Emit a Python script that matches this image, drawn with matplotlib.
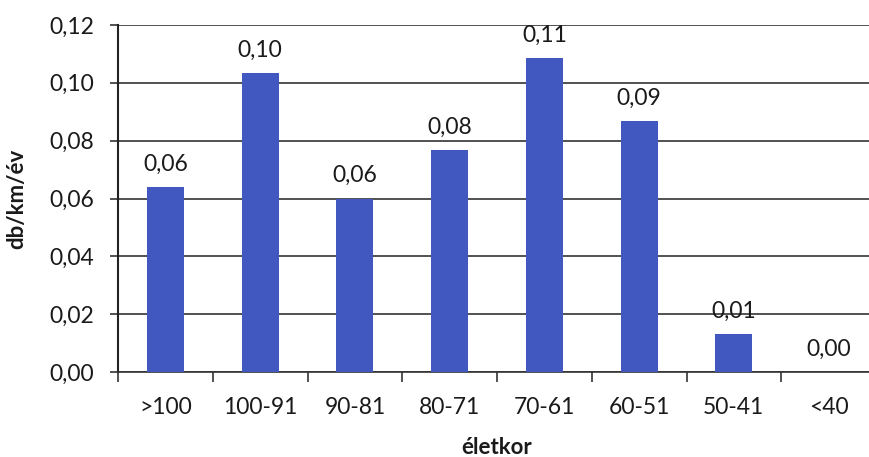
import matplotlib

matplotlib.use("Agg")
import matplotlib.pyplot as plt
import numpy as np

# age groups and failure rate (db/km/év)
categories = [">100", "100-91", "90-81", "80-71", "70-61", "60-51", "50-41", "<40"]
rates = [0.064, 0.1034, 0.060, 0.0768, 0.1086, 0.0868, 0.0131, 0.0]
y_ticks = [0.0, 0.02, 0.04, 0.06, 0.08, 0.10, 0.12]

plt.rcParams["font.family"] = ["Lato", "DejaVu Sans"]

fig = plt.figure(figsize=(8.69, 4.57), dpi=100)
# plot area runs slightly past the right edge of the figure
ax = fig.add_axes([118 / 869, 1 - 372 / 457, 758 / 869, 347 / 457])

x = np.arange(len(categories))
ax.bar(x, rates, width=0.39, color="#4058C0", zorder=3)

for xi, v in zip(x, rates):
    ax.annotate(
        f"{v:.2f}".replace(".", ","),
        (xi, v),
        xytext=(0, 9),
        textcoords="offset points",
        ha="center",
        va="bottom",
        fontsize=16.5,
        color="#1a1a1a",
    )

ax.set_xlim(-0.5, len(categories) - 0.5)
ax.set_ylim(0, 0.12)
ax.set_yticks(y_ticks)
ax.set_yticklabels(
    [f"{t:.2f}".replace(".", ",") for t in y_ticks], fontsize=16.5, color="#1a1a1a"
)
ax.yaxis.grid(True, color="#333333", linewidth=1.2, zorder=0)
ax.tick_params(axis="y", length=6, width=1.2, color="#333333", pad=11)

# category labels centred, tick marks between categories
ax.set_xticks(x)
ax.set_xticklabels(categories, fontsize=16.5, color="#1a1a1a")
ax.tick_params(axis="x", length=0, pad=18)
ax.set_xticks(np.arange(len(categories) + 1) - 0.5, minor=True)
ax.tick_params(axis="x", which="minor", length=7, width=1.2, color="#333333")

for side in ["top", "right"]:
    ax.spines[side].set_visible(False)
ax.spines["left"].set_color("#222222")
ax.spines["left"].set_linewidth(1.5)
ax.spines["bottom"].set_color("#333333")
ax.spines["bottom"].set_linewidth(1.2)

ax.set_xlabel("életkor", fontsize=16, fontweight="bold", labelpad=14, color="#1a1a1a")
ax.set_ylabel("db/km/év", fontsize=16, fontweight="bold", labelpad=16, color="#1a1a1a")

fig.savefig("out.png", dpi=100)
